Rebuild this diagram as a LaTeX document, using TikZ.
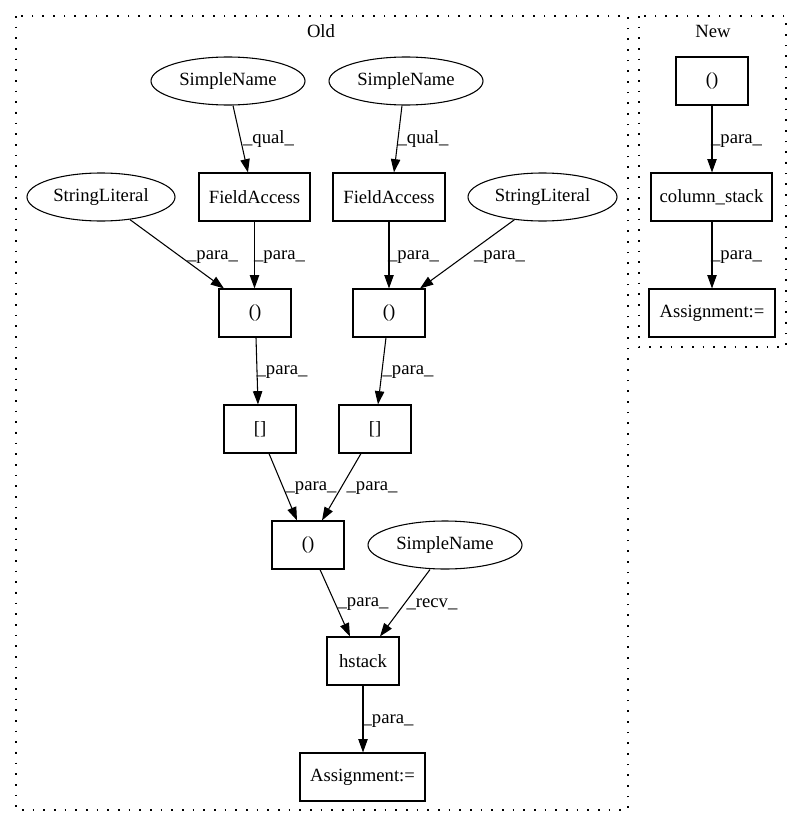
\documentclass[tikz,border=0pt]{standalone}
\usepackage{fontspec}
\setmainfont{Liberation Serif}
\usetikzlibrary{shapes.geometric,arrows.meta}
\begin{document}
\begin{tikzpicture}[x=0.75pt,y=-0.75pt,
  every node/.style={font=\fontsize{14pt}{16pt}\selectfont, inner sep=0pt},
  box/.style={draw, rectangle, line width=0.8pt, minimum height=36pt},
  oval/.style={draw, ellipse, line width=0.8pt, minimum height=36pt},
  edge/.style={draw, line width=0.8pt, -{Triangle[length=10pt,width=7pt]}},
  lbl/.style={font=\fontsize{14pt}{16pt}\selectfont},
  cluster/.style={draw, line width=1.1pt, dash pattern=on 1.2pt off 6.8pt}]
\useasboundingbox (0,0) rectangle (801,828);

% clusters
\draw[cluster] (16,16) rectangle (628,810);
\draw[cluster] (639,16) rectangle (786,347);
\node (tOld) at (321,31) {Old};
\node (tNew) at (713,31) {New};

% Old nodes
\node[oval, minimum width=115.5pt] (sn1) at (228,81) {SimpleName};
\node[oval, minimum width=115.5pt] (sn2) at (406,81) {SimpleName};
\node[box, minimum width=83.25pt] (fa1) at (254.5,197) {FieldAccess};
\node[box, minimum width=84pt] (fa2) at (389,197) {FieldAccess};
\node[oval, minimum width=111pt] (sl1) at (101,197) {StringLiteral};
\node[oval, minimum width=111.75pt] (sl2) at (542.5,197) {StringLiteral};
\node[box, minimum width=54pt] (p1) at (255,313) {()};
\node[box, minimum width=54pt] (p2) at (389,313) {()};
\node[box, minimum width=54pt] (b1) at (260,429) {[]};
\node[box, minimum width=54pt] (b2) at (375,429) {[]};
\node[box, minimum width=54pt] (p3) at (308,545) {()};
\node[oval, minimum width=115.5pt] (sn3) at (445,545) {SimpleName};
\node[box, minimum width=54pt] (hs) at (363,661) {hstack};
\node[box, minimum width=93.75pt] (as) at (362.5,777) {Assignment:=};

% New nodes
\node[box, minimum width=54pt] (np) at (712,81) {()};
\node[box, minimum width=90.75pt] (cs) at (711.5,197) {column\_stack};
\node[box, minimum width=94.5pt] (nas) at (712,313) {Assignment:=};

% Old edges
\draw[edge] ([xshift=3.75pt]sn1.south) -- ([xshift=-4.9pt]fa1.north);
\draw[edge] ([xshift=-3pt]sn2.south) -- ([xshift=3.75pt]fa2.north);
\draw[edge] (sl1.-38) -- ([xshift=-23.25pt]p1.north);
\draw[edge] (fa1.south) -- (fa1.south |- p1.north);
\draw[edge] (fa2.south) -- (p2.north);
\draw[edge] (sl2.-141) -- ([xshift=23.25pt]p2.north);
\draw[edge] ([xshift=0.75pt]p1.south) -- ([xshift=-1.5pt]b1.north);
\draw[edge] ([xshift=-2.25pt]p2.south) -- ([xshift=2.25pt]b2.north);
\draw[edge] ([xshift=6.75pt]b1.south) -- ([xshift=-8.25pt]p3.north);
\draw[edge] ([xshift=-10.5pt]b2.south) -- ([xshift=10.5pt]p3.north);
\draw[edge] ([xshift=9pt]p3.south) -- ([xshift=-9.75pt]hs.north);
\draw[edge] ([xshift=-11.25pt]sn3.south) -- ([xshift=12.75pt]hs.north);
\draw[edge] (hs.south) -- (hs.south |- as.north);

% New edges
\draw[edge] (np.south) -- (np.south |- cs.north);
\draw[edge] (np.south |- cs.south) -- (np.south |- nas.north);

% Edge labels
\node[lbl] (q1) at (268.5,139) {\_qual\_};
\node[lbl] (q2) at (423,139) {\_qual\_};
\node[lbl] (e1) at (212.5,257) {\_para\_};
\node[lbl] (e2) at (279.5,257) {\_para\_};
\node[lbl] (e3) at (413.5,257) {\_para\_};
\node[lbl] (e4) at (499.5,257) {\_para\_};
\node[lbl] (e5) at (282,372) {\_para\_};
\node[lbl] (e6) at (408,372) {\_para\_};
\node[lbl] (e7) at (311,488) {\_para\_};
\node[lbl] (e8) at (372,488) {\_para\_};
\node[lbl] (e9) at (363,604) {\_para\_};
\node[lbl] (e10) at (432,604) {\_recv\_};
\node[lbl] (e11) at (388,721) {\_para\_};
\node[lbl] (e12) at (736.5,141) {\_para\_};
\node[lbl] (e13) at (736.5,257) {\_para\_};
\end{tikzpicture}
\end{document}
